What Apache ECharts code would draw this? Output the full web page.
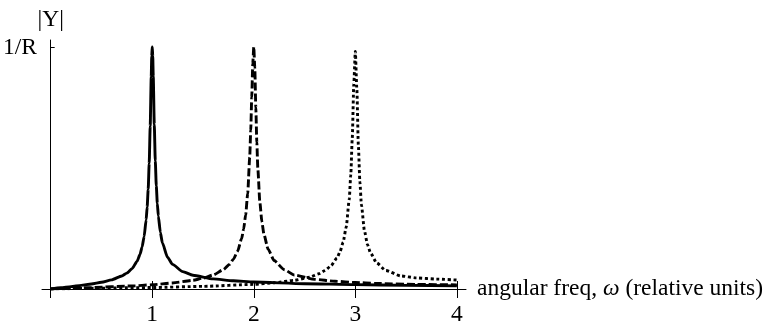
<!DOCTYPE html>
<html>
<head>
<meta charset="utf-8">
<script src="https://cdn.jsdelivr.net/npm/echarts@6/dist/echarts.min.js"></script>
<style>
html,body{margin:0;padding:0;background:#fff;}
#c{width:777px;height:327px;}
</style>
</head>
<body>
<div id="c"></div>
<script>
// Values: [omega, |Y| in units of 1/R]
var solidCurve = [
  [0, 0], [0.1, 0.005], [0.2, 0.01], [0.3, 0.015], [0.4, 0.021], [0.5, 0.028],
  [0.6, 0.038], [0.7, 0.054], [0.75, 0.066], [0.8, 0.084], [0.85, 0.114],
  [0.88, 0.144], [0.9, 0.174], [0.92, 0.217], [0.94, 0.287], [0.95, 0.34],
  [0.96, 0.413], [0.97, 0.52], [0.98, 0.676], [0.99, 0.879], [0.995, 0.965],
  [1.0, 1.003], [1.005, 0.966], [1.01, 0.881], [1.02, 0.683], [1.03, 0.531],
  [1.04, 0.427], [1.05, 0.355], [1.06, 0.303], [1.08, 0.234], [1.1, 0.191],
  [1.15, 0.132], [1.2, 0.102], [1.3, 0.072], [1.4, 0.057], [1.6, 0.042],
  [1.8, 0.034], [2.0, 0.029], [2.5, 0.022], [3.0, 0.018], [3.5, 0.015], [4.0, 0.013]
];
var dashedCurve = [
  [0, 0], [0.4, 0.006], [0.8, 0.0125], [1.0, 0.0175], [1.2, 0.025], [1.4, 0.036],
  [1.5, 0.045], [1.6, 0.058], [1.7, 0.08], [1.76, 0.102], [1.8, 0.124],
  [1.84, 0.156], [1.88, 0.208], [1.9, 0.248], [1.92, 0.307], [1.94, 0.396],
  [1.96, 0.546], [1.97, 0.657], [1.98, 0.795], [1.99, 0.934], [2.0, 1.003],
  [2.01, 0.916], [2.02, 0.752], [2.03, 0.607], [2.04, 0.497], [2.06, 0.359],
  [2.08, 0.278], [2.1, 0.227], [2.14, 0.166], [2.2, 0.118], [2.3, 0.08],
  [2.4, 0.058], [2.6, 0.04], [2.8, 0.032], [3.0, 0.027], [3.2, 0.023],
  [3.6, 0.019], [4.0, 0.017]
];
var dottedCurve = [
  [0, 0], [1.0, 0.006], [1.5, 0.011], [2.0, 0.019], [2.2, 0.026], [2.4, 0.036],
  [2.55, 0.049], [2.64, 0.063], [2.7, 0.076], [2.76, 0.096], [2.82, 0.129],
  [2.85, 0.155], [2.88, 0.194], [2.91, 0.256], [2.94, 0.371], [2.955, 0.471],
  [2.97, 0.626], [2.985, 0.849], [3.0, 0.985], [3.015, 0.828], [3.03, 0.594],
  [3.045, 0.443], [3.06, 0.348], [3.09, 0.241], [3.12, 0.184], [3.15, 0.149],
  [3.21, 0.108], [3.3, 0.077], [3.45, 0.054], [3.6, 0.046], [3.8, 0.041], [4.0, 0.037]
];
var xTickValues = [0, 1, 2, 3, 4];
var xLabelValues = [1, 2, 3, 4];
var yTickValues = [1];
var yTickLabel = '1/R';
var xName = 'angular freq, {i|ω} (relative units)';
var yName = '|Y|';

var FONT = '"Liberation Serif", "DejaVu Serif", serif';
var FS = 23.5;
var chart = echarts.init(document.getElementById('c'), null, {renderer: 'canvas'});
var lineW = 2.9;
chart.setOption({
  animation: false,
  backgroundColor: '#fff',
  grid: {left: 42, right: 311, top: 40, bottom: 32.7},
  xAxis: [{
    type: 'value', min: -0.0857, max: 4.09, position: 'bottom',
    axisLine: {show: true, lineStyle: {color: '#000', width: 1}},
    axisTick: {show: true, customValues: xTickValues, length: 9, lineStyle: {color: '#000', width: 1}},
    axisLabel: {customValues: xLabelValues, margin: 14, color: '#000', fontFamily: FONT, fontSize: FS},
    splitLine: {show: false},
    name: xName, nameLocation: 'end', nameGap: 11,
    nameTextStyle: {color: '#000', fontFamily: FONT, fontSize: FS, verticalAlign: 'middle',
      rich: {i: {fontStyle: 'italic', fontFamily: FONT, fontSize: FS, color: '#000'}}}
  }, {
    type: 'value', min: -0.0857, max: 4.09, position: 'bottom',
    axisLine: {show: false},
    axisTick: {show: true, inside: true, customValues: xTickValues, length: 8, lineStyle: {color: '#000', width: 1}},
    axisLabel: {show: false},
    splitLine: {show: false}
  }],
  yAxis: {
    type: 'value', min: 0, max: 1.032,
    axisLine: {show: true, onZero: true, lineStyle: {color: '#000', width: 1}},
    axisTick: {show: true, inside: true, customValues: yTickValues, length: 4, lineStyle: {color: '#000', width: 1}},
    axisLabel: {customValues: yTickValues, formatter: function () { return yTickLabel; }, margin: 5,
      color: '#000', fontFamily: FONT, fontSize: FS},
    splitLine: {show: false},
    name: yName, nameLocation: 'end', nameGap: 8,
    nameTextStyle: {color: '#000', fontFamily: FONT, fontSize: FS, align: 'center'}
  },
  series: [
    {type: 'line', xAxisIndex: 0, data: solidCurve, showSymbol: false, smooth: 0.2, smoothMonotone: 'x',
      lineStyle: {color: '#000', width: lineW, type: 'solid'}},
    {type: 'line', xAxisIndex: 0, data: dashedCurve, showSymbol: false, smooth: 0.2, smoothMonotone: 'x',
      lineStyle: {color: '#000', width: lineW, type: [8, 3]}},
    {type: 'line', xAxisIndex: 0, data: dottedCurve, showSymbol: false, smooth: 0.2, smoothMonotone: 'x',
      lineStyle: {color: '#000', width: lineW, type: [3, 2.7]}}
  ]
});
</script>
</body>
</html>
